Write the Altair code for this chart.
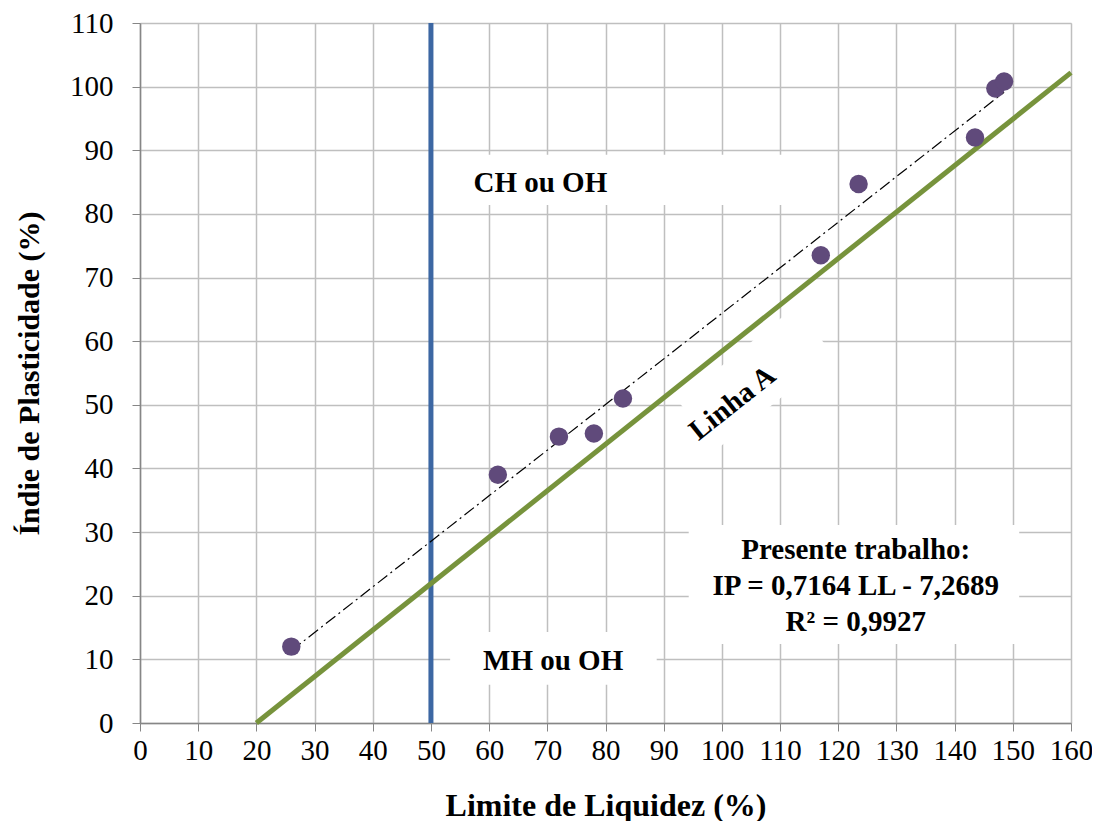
import altair as alt
import pandas as pd

# data points
ll = [26, 61.5, 72, 78, 83, 117, 123.5, 143.5, 147, 148.5]
ip = [12, 39, 45, 45.5, 51, 73.5, 84.7, 92, 99.7, 100.8]

# A-line (Casagrande): endpoints
aline_ll = [20, 160]
aline_ip = [0, 102.2]
# trend line y = 0.7164 LL - 7.2689
trend_ll = [26, 148.5]
trend_ip = [0.7164 * v - 7.2689 for v in trend_ll]
# vertical LL = 50
vert_ll = [50, 50]
vert_ip = [0, 110]

# white label boxes (LL range, IP range)
box_x = [50.5, 53.3, 94.3]
box_x2 = [112, 88.8, 151.1]
box_y = [81.4, 6.0, 12.4]
box_y2 = [89.3, 14.3, 31.1]

# rotated box for "Linha A"
rot_ll = [95.8, 115.9]
rot_ip = [46.8, 61.6]

FONT = "Liberation Serif"
xs = alt.Scale(domain=[0, 160], nice=False)
ys = alt.Scale(domain=[0, 110], nice=False)

xax = alt.Axis(values=list(range(0, 161, 10)), title="Limite de Liquidez (%)",
               labelFont=FONT, labelFontSize=29, labelColor="black",
               labelFlush=False, labelOverlap=False, labelBound=False,
               titleFont=FONT, titleFontSize=32, titleFontWeight="bold", titleColor="black",
               titlePadding=25, labelPadding=5, tickSize=8, tickColor="#868686",
               domainColor="#868686", domainWidth=1.5, gridColor="#BFBFBF", gridWidth=1.5)
yax = alt.Axis(values=list(range(0, 111, 10)), title="Índie de Plasticidade (%)",
               labelFont=FONT, labelFontSize=29, labelColor="black",
               labelFlush=False, labelOverlap=False, labelBound=False,
               titleFont=FONT, titleFontSize=30, titleFontWeight="bold", titleColor="black",
               titlePadding=25, labelPadding=19, tickSize=8, tickColor="#868686",
               domainColor="#868686", domainWidth=1.5, gridColor="#BFBFBF", gridWidth=1.5)

pts = pd.DataFrame({"ll": ll, "ip": ip})
aline = pd.DataFrame({"ll": aline_ll, "ip": aline_ip})
trend = pd.DataFrame({"ll": trend_ll, "ip": trend_ip})
vert = pd.DataFrame({"ll": vert_ll, "ip": vert_ip})
boxes = pd.DataFrame({"x": box_x, "x2": box_x2, "y": box_y, "y2": box_y2})
rot = pd.DataFrame({"ll": rot_ll, "ip": rot_ip})

base_axes = alt.Chart(pts).mark_point(opacity=0).encode(
    x=alt.X("ll:Q", scale=xs, axis=xax),
    y=alt.Y("ip:Q", scale=ys, axis=yax),
)

box_layer = alt.Chart(boxes).mark_rect(color="white").encode(
    x=alt.X("x:Q", scale=xs), x2="x2:Q", y=alt.Y("y:Q", scale=ys), y2="y2:Q"
)

rot_layer = alt.Chart(rot).mark_line(color="white", strokeWidth=62, strokeCap="butt").encode(
    x=alt.X("ll:Q", scale=xs), y=alt.Y("ip:Q", scale=ys)
)

vert_layer = alt.Chart(vert).mark_line(color="#3C67A3", strokeWidth=5).encode(
    x=alt.X("ll:Q", scale=xs), y=alt.Y("ip:Q", scale=ys)
)

aline_layer = alt.Chart(aline).mark_line(color="#77933C", strokeWidth=5).encode(
    x=alt.X("ll:Q", scale=xs), y=alt.Y("ip:Q", scale=ys)
)

trend_layer = alt.Chart(trend).mark_line(color="black", strokeWidth=1.2,
                                         strokeDash=[12, 4, 2, 4]).encode(
    x=alt.X("ll:Q", scale=xs), y=alt.Y("ip:Q", scale=ys)
)

pt_layer = alt.Chart(pts).mark_circle(color="#604A7B", size=340, opacity=1).encode(
    x=alt.X("ll:Q", scale=xs), y=alt.Y("ip:Q", scale=ys)
)

labels = pd.DataFrame({
    "ll": [68.8, 71.0, 123.0, 123.0, 123.0],
    "ip": [84.9, 9.7, 27.2, 21.5, 15.9],
    "t": ["CH ou OH", "MH ou OH", "Presente trabalho:", "IP = 0,7164 LL - 7,2689", "R² = 0,9927"],
})
text_layer = alt.Chart(labels).mark_text(font=FONT, fontSize=29, fontWeight="bold",
                                         color="black", align="center", baseline="middle").encode(
    x=alt.X("ll:Q", scale=xs), y=alt.Y("ip:Q", scale=ys), text="t:N"
)

linha = pd.DataFrame({"ll": [101.8], "ip": [50.3], "t": ["Linha  A"]})
linha_layer = alt.Chart(linha).mark_text(font=FONT, fontSize=29, fontWeight="bold",
                                         color="black", align="center", baseline="middle",
                                         angle=321.6).encode(
    x=alt.X("ll:Q", scale=xs), y=alt.Y("ip:Q", scale=ys), text="t:N"
)

chart = alt.layer(
    base_axes, box_layer, rot_layer, vert_layer, aline_layer, trend_layer, pt_layer,
    text_layer, linha_layer
).properties(
    width=931, height=700,
    autosize=alt.AutoSizeParams(type="none"),
    padding={"left": 132, "top": 15, "right": 21, "bottom": 98},
).configure_view(stroke=None).configure(background="white")

chart.save("out.html", embed_options={"renderer": "svg", "actions": False})
